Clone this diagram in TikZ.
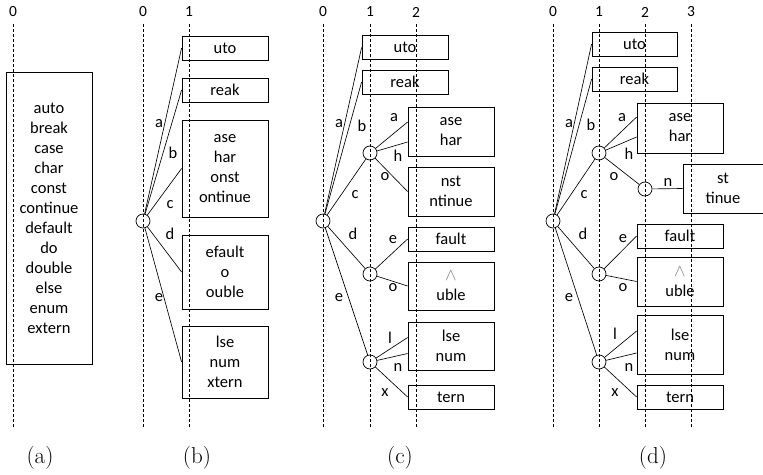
\documentclass[tikz,border=0pt]{standalone}
\usepackage{fontspec}
\newfontfamily\cfont{Carlito}
\newcommand\graywedge{{\color{gray}$\wedge$}}
\begin{document}
\begin{tikzpicture}[x=1pt,y=-1pt,
  bx/.style={draw, line width=0.8pt, minimum width=86pt, align=center, inner sep=0pt,
     font=\cfont\fontsize{16.5}{20}\selectfont},
  ci/.style={circle, draw, minimum size=14pt, inner sep=0pt, line width=0.7pt},
  lab/.style={font=\cfont\fontsize{16.5}{19}\selectfont, inner sep=0pt},
  numtxt/.style={font=\cfont\fontsize{15.5}{18}\selectfont, inner sep=0pt},
  captxt/.style={font=\fontsize{23}{26}\selectfont, inner sep=0pt},
  dl/.style={dash pattern=on 3pt off 2pt, line width=0.7pt},
  ed/.style={line width=0.65pt}]
\useasboundingbox (0,0) rectangle (763,474);
% ---------- (a)
\node[numtxt] (an0) at (13,12) {0};
\draw[dl] (13,24) -- (13,427);
\node[bx, minimum height=292pt] (abox) at (49,218) {auto\\break\\case\\char\\const\\continue\\default\\do\\double\\else\\enum\\extern};
\node[captxt] (capa) at (40,458) {(a)};
% ---------- (b)
\node[numtxt] (bn0) at (143,12) {0};
\node[numtxt] (bn1) at (189,12) {1};
\draw[dl] (143,24) -- (143,427);
\draw[dl] (189,24) -- (189,427);
\node[ci] (br) at (143,221) {};
\node[bx, minimum height=24pt] (bu) at (225,48) {uto};
\node[bx, minimum height=24pt] (bk) at (225,90) {reak};
\node[bx, minimum height=97pt] (bc) at (225,168.5) {ase\\har\\onst\\ontinue};
\node[bx, minimum height=74pt] (bd) at (225,272) {efault\\o\\ouble};
\node[bx, minimum height=72pt] (be) at (225,362) {lse\\num\\xtern};
\draw[ed] (br) -- (bu.west);
\draw[ed] (br) -- (bk.west);
\draw[ed] (br) -- (bc.west);
\draw[ed] (br) -- (bd.west);
\draw[ed] (br) -- (be.west);
\node[lab] (bla) at (159,124) {a};
\node[lab] (blb) at (173,153) {b};
\node[lab] (blc) at (170,205) {c};
\node[lab] (bld) at (170,234) {d};
\node[lab] (ble) at (159,298) {e};
\node[captxt] (capb) at (197,458) {(b)};
% ---------- (c)
\node[numtxt] (cn0) at (323,12) {0};
\node[numtxt] (cn1) at (370,12) {1};
\node[numtxt] (cn2) at (416,12) {2};
\draw[dl] (323,24) -- (323,427);
\draw[dl] (370,24) -- (370,427);
\draw[dl] (416,24) -- (416,427);
\node[ci] (cr) at (323,221) {};
\node[bx, minimum height=24pt] (cu) at (405,47.5) {uto};
\node[bx, minimum height=24pt] (ck) at (405,82) {reak};
\node[ci] (cc) at (370,153) {};
\node[ci] (cd) at (370,274) {};
\node[ci] (ce) at (370,362) {};
\node[bx, minimum height=49pt] (cah) at (451,131.5) {ase\\har};
\node[bx, minimum height=49pt] (con) at (451,191.5) {nst\\ntinue};
\node[bx, minimum height=24pt] (cf) at (451,239) {fault};
\node[bx, minimum height=48pt] (cub) at (451,286) {\graywedge\\uble};
\node[bx, minimum height=48pt] (cln) at (451,346) {lse\\num};
\node[bx, minimum height=24pt] (ct) at (451,397) {tern};
\draw[ed] (cr) -- (cu.west);
\draw[ed] (cr) -- (ck.west);
\draw[ed] (cr) -- (cc);
\draw[ed] (cr) -- (cd);
\draw[ed] (cr) -- (ce);
\draw[ed] (cc) -- ([yshift=9.5pt]cah.west);
\draw[ed] (cc) -- ([yshift=-10.5pt]cah.west);
\draw[ed] (cc) -- (con.west);
\draw[ed] (cd) -- (cf.west);
\draw[ed] (cd) -- (cub.west);
\draw[ed] (ce) -- ([yshift=8.5pt]cln.west);
\draw[ed] (ce) -- ([yshift=-7.5pt]cln.west);
\draw[ed] (ce) -- (ct.west);
\node[lab] (cla) at (339,124) {a};
\node[lab] (clb) at (362,126) {b};
\node[lab] (clc) at (355,195) {c};
\node[lab] (cld) at (353,234) {d};
\node[lab] (cle) at (339,298) {e};
\node[lab] (cl2a) at (394,118) {a};
\node[lab] (cl2h) at (398,156) {h};
\node[lab] (cl2o) at (385,177) {o};
\node[lab] (cl2e) at (393,240) {e};
\node[lab] (cl2o2) at (393,288) {o};
\node[lab] (cl2l) at (390,338) {l};
\node[lab] (cl2n) at (398,367) {n};
\node[lab] (cl2x) at (385,393) {x};
\node[captxt] (capc) at (400,458) {(c)};
% ---------- (d)
\node[numtxt] (dn0) at (553,12) {0};
\node[numtxt] (dn1) at (599,12) {1};
\node[numtxt] (dn2) at (645,12) {2};
\node[numtxt] (dn3) at (691,12) {3};
\draw[dl] (553,24) -- (553,427);
\draw[dl] (599,24) -- (599,427);
\draw[dl] (645,24) -- (645,427);
\draw[dl] (691,24) -- (691,427);
\node[ci] (dr) at (553,221) {};
\node[bx, minimum width=85pt, minimum height=24pt] (du) at (634.5,44) {uto};
\node[bx, minimum width=85pt, minimum height=24pt] (dk) at (634.5,79) {reak};
\node[ci] (dc) at (599,153) {};
\node[ci] (dd) at (599,274) {};
\node[ci] (de) at (599,362) {};
\node[ci] (dco) at (645,189) {};
\node[bx, minimum height=50pt] (dah) at (680,128) {ase\\har};
\node[bx, minimum width=80pt, minimum height=49pt] (dst) at (723,188.5) {st\\tinue};
\node[bx, minimum height=24pt] (df) at (680,236) {fault};
\node[bx, minimum height=49pt] (dub) at (680,281.5) {\graywedge\\uble};
\node[bx, minimum height=59pt] (dln) at (680,344.5) {lse\\num};
\node[bx, minimum height=24pt] (dt) at (680,397) {tern};
\draw[ed] (dr) -- (du.west);
\draw[ed] (dr) -- (dk.west);
\draw[ed] (dr) -- (dc);
\draw[ed] (dr) -- (dd);
\draw[ed] (dr) -- (de);
\draw[ed] (dc) -- ([yshift=11pt]dah.west);
\draw[ed] (dc) -- ([yshift=-9pt]dah.west);
\draw[ed] (dc) -- (dco);
\draw[ed] (dco) -- (dst.west);
\draw[ed] (dd) -- (df.west);
\draw[ed] (dd) -- (dub.west);
\draw[ed] (de) -- ([yshift=13.5pt]dln.west);
\draw[ed] (de) -- ([yshift=-8.5pt]dln.west);
\draw[ed] (de) -- (dt.west);
\node[lab] (dla) at (569,124) {a};
\node[lab] (dlb) at (591,125) {b};
\node[lab] (dlc) at (584,195) {c};
\node[lab] (dld) at (583,234) {d};
\node[lab] (dle) at (569,298) {e};
\node[lab] (dl2a) at (622,118) {a};
\node[lab] (dl2h) at (629,154) {h};
\node[lab] (dl2o) at (614,177) {o};
\node[lab] (dl2n) at (668,182) {n};
\node[lab] (dl2e) at (623,239) {e};
\node[lab] (dl2o2) at (623,288) {o};
\node[lab] (dl2l) at (615,334) {l};
\node[lab] (dl2nn) at (629,367) {n};
\node[lab] (dl2x) at (615,393) {x};
\node[captxt] (capd) at (653,458) {(d)};
\end{tikzpicture}
\end{document}
